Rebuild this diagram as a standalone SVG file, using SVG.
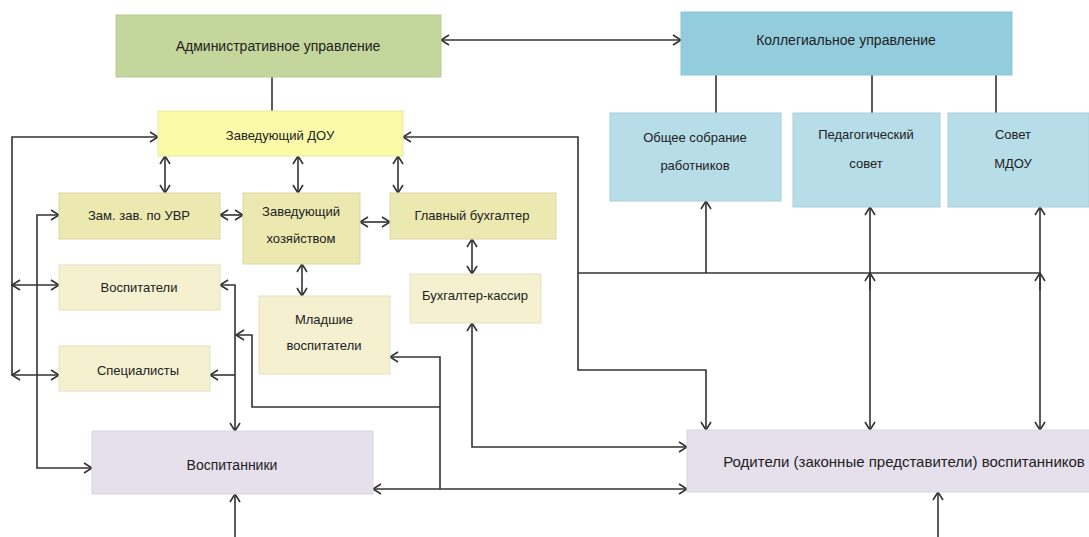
<svg xmlns="http://www.w3.org/2000/svg" width="1089" height="537" viewBox="0 0 1089 537">
<defs>
<style>
text{font-family:"Liberation Sans","DejaVu Sans",sans-serif;fill:#222;text-anchor:middle;dominant-baseline:middle}
.t14{font-size:14px}
.t15{font-size:15px}
.t13{font-size:13px}
.b{stroke-width:1}
.adm{fill:#c3d69b;stroke:#b9cc92}
.kol{fill:#93cddd;stroke:#8cc4d3}
.kc{fill:#b6dde8;stroke:#a9d0db}
.doy{fill:#fafaa8;stroke:#e8e89a}
.r2{fill:#ebe8b0;stroke:#dcd9a2}
.r3{fill:#f5f1d0;stroke:#e4e0bf}
.lav{fill:#e5e0ec;stroke:#d9d4e0}
.c path{fill:none;stroke:#333;stroke-width:1.6}
</style>
<marker id="a" viewBox="0 0 12 12" refX="10" refY="6" markerWidth="12" markerHeight="12" markerUnits="userSpaceOnUse" orient="auto-start-reverse">
<path d="M2,1 L10,6 L2,11" fill="none" stroke="#333" stroke-width="1.6"/>
</marker>
</defs>
<rect width="1089" height="537" fill="#fff"/>

<g class="c" id="connectors">
<path d="M441,40 H681" marker-start="url(#a)" marker-end="url(#a)"/>
<path d="M272,77 V111"/>
<path d="M716,75 V113"/>
<path d="M872,75 V113"/>
<path d="M996,75 V113"/>
<path d="M165,156 V193" marker-start="url(#a)" marker-end="url(#a)"/>
<path d="M298,156 V193" marker-start="url(#a)" marker-end="url(#a)"/>
<path d="M398,156 V193" marker-start="url(#a)" marker-end="url(#a)"/>
<path d="M220,215 H243" marker-start="url(#a)" marker-end="url(#a)"/>
<path d="M360,222 H390" marker-start="url(#a)" marker-end="url(#a)"/>
<path d="M302,264 V296" marker-start="url(#a)" marker-end="url(#a)"/>
<path d="M472,239 V274" marker-start="url(#a)" marker-end="url(#a)"/>
<path d="M12,375 V137 H158" marker-end="url(#a)"/>
<path d="M12,285 H59" marker-start="url(#a)" marker-end="url(#a)"/>
<path d="M12,375 H59" marker-start="url(#a)" marker-end="url(#a)"/>
<path d="M59,215 H37 V468 H92" marker-start="url(#a)" marker-end="url(#a)"/>
<path d="M220,285 H235 V431" marker-start="url(#a)" marker-end="url(#a)"/>
<path d="M235,375 H210" marker-end="url(#a)"/>
<path d="M236,335 H252 V407 H440" marker-start="url(#a)"/>
<path d="M390,357 H440 V489" marker-start="url(#a)"/>
<path d="M373,489 H687" marker-start="url(#a)" marker-end="url(#a)"/>
<path d="M472,323 V447 H687" marker-start="url(#a)" marker-end="url(#a)"/>
<path d="M403,137 H578 V370 H706 V430" marker-start="url(#a)" marker-end="url(#a)"/>
<path d="M578,273 H1040"/>
<path d="M706,273 V201" marker-end="url(#a)"/>
<path d="M870,207 V430" marker-start="url(#a)" marker-end="url(#a)"/>
<path d="M870,290 V273" marker-end="url(#a)"/>
<path d="M1040,207 V430" marker-start="url(#a)" marker-end="url(#a)"/>
<path d="M1040,290 V273" marker-end="url(#a)"/>
<path d="M235,537 V494" marker-end="url(#a)"/>
<path d="M938,537 V492" marker-end="url(#a)"/>
</g>

<g id="admin"><rect class="adm b" x="116" y="15" width="325" height="62"/><text class="t14" x="278" y="47">Административное управление</text></g>
<g id="kolleg"><rect class="kol b" x="681" y="12" width="331" height="63"/><text class="t14" x="846" y="41">Коллегиальное управление</text></g>
<g id="obshchee"><rect class="kc b" x="610" y="113" width="171" height="88"/><text class="t13" x="695" y="139">Общее собрание</text><text class="t13" x="695" y="167">работников</text></g>
<g id="pedsovet"><rect class="kc b" x="793" y="113" width="147" height="94"/><text class="t13" x="866" y="136">Педагогический</text><text class="t13" x="866" y="165">совет</text></g>
<g id="sovet"><rect class="kc b" x="948" y="113" width="141" height="94"/><text class="t13" x="1013" y="136">Совет</text><text class="t13" x="1013" y="165">МДОУ</text></g>
<g id="zavdou"><rect class="doy b" x="158" y="111" width="245" height="45"/><text class="t13" x="280" y="137">Заведующий ДОУ</text></g>
<g id="zamzav"><rect class="r2 b" x="59" y="193" width="161" height="46"/><text class="t13" x="139" y="217">Зам. зав. по УВР</text></g>
<g id="zavhoz"><rect class="r2 b" x="243" y="193" width="117" height="71"/><text class="t13" x="301" y="213">Заведующий</text><text class="t13" x="301" y="240">хозяйством</text></g>
<g id="glavbuh"><rect class="r2 b" x="390" y="193" width="166" height="46"/><text class="t13" x="472" y="217">Главный бухгалтер</text></g>
<g id="vospitateli"><rect class="r3 b" x="59" y="265" width="161" height="45"/><text class="t13" x="139" y="289">Воспитатели</text></g>
<g id="kassir"><rect class="r3 b" x="410" y="274" width="131" height="49"/><text class="t13" x="475" y="297">Бухгалтер-кассир</text></g>
<g id="mladshie"><rect class="r3 b" x="259" y="296" width="131" height="78"/><text class="t13" x="324" y="321">Младшие</text><text class="t13" x="324" y="347">воспитатели</text></g>
<g id="specialisty"><rect class="r3 b" x="59" y="346" width="151" height="45"/><text class="t13" x="138" y="372">Специалисты</text></g>
<g id="vospitanniki"><rect class="lav b" x="92" y="431" width="281" height="63"/><text class="t14" x="232" y="466">Воспитанники</text></g>
<g id="roditeli"><rect class="lav b" x="687" y="430" width="410" height="62"/><text class="t15" x="904" y="463">Родители (законные представители) воспитанников</text></g>
</svg>
